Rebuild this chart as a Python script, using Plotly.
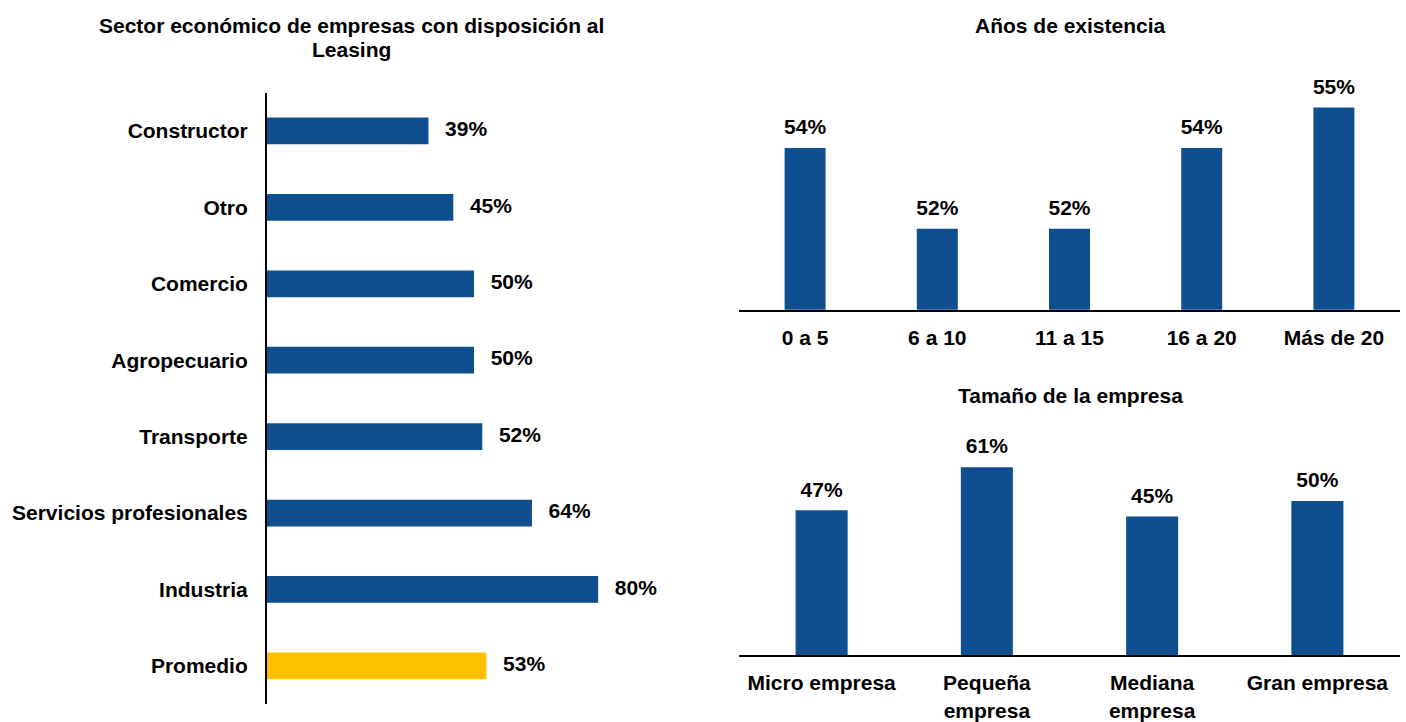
import plotly.graph_objects as go

W, H = 1406, 722

# ---- data ----
sector_cats = ["Constructor", "Otro", "Comercio", "Agropecuario", "Transporte",
               "Servicios profesionales", "Industria", "Promedio"]
sector_vals = [39, 45, 50, 50, 52, 64, 80, 53]

years_cats = ["0 a 5", "6 a 10", "11 a 15", "16 a 20", "Más de 20"]
years_vals = [54, 52, 52, 54, 55]

size_cats = ["Micro empresa", "Pequeña<br>empresa", "Mediana<br>empresa", "Gran empresa"]
size_vals = [47, 61, 45, 50]

BLUE = "#0F4F8F"
YELLOW = "#FFC000"
FONT = "Liberation Sans"
FS = 21


def px_x(p):
    return p / W


def px_y(p):
    return 1 - p / H


bold = dict(family=FONT, size=FS, color="black", weight="bold")
sector_colors = [YELLOW if c == "Promedio" else BLUE for c in sector_cats]

fig = go.Figure()

# left: horizontal bars
fig.add_trace(go.Bar(
    x=sector_vals, y=sector_cats, orientation="h",
    marker=dict(color=sector_colors, line=dict(width=0)),
    width=0.35, xaxis="x", yaxis="y", hoverinfo="skip",
))
fig.add_trace(go.Scatter(
    x=sector_vals, y=sector_cats, mode="markers+text",
    marker=dict(size=25, opacity=0), texttemplate="%{x}%",
    textposition="middle right", textfont=bold, cliponaxis=False,
    xaxis="x", yaxis="y", hoverinfo="skip",
))

# top right: years
fig.add_trace(go.Bar(
    x=years_cats, y=years_vals,
    marker=dict(color=BLUE, line=dict(width=0)),
    width=0.31, xaxis="x2", yaxis="y2", hoverinfo="skip",
))
fig.add_trace(go.Scatter(
    x=years_cats, y=years_vals, mode="markers+text",
    marker=dict(size=12, opacity=0), texttemplate="%{y}%",
    textposition="top center", textfont=bold, cliponaxis=False,
    xaxis="x2", yaxis="y2", hoverinfo="skip",
))

# bottom right: size
fig.add_trace(go.Bar(
    x=size_cats, y=size_vals,
    marker=dict(color=BLUE, line=dict(width=0)),
    width=0.315, xaxis="x3", yaxis="y3", hoverinfo="skip",
))
fig.add_trace(go.Scatter(
    x=size_cats, y=size_vals, mode="markers+text",
    marker=dict(size=12, opacity=0), texttemplate="%{y}%",
    textposition="top center", textfont=bold, cliponaxis=False,
    xaxis="x3", yaxis="y3", hoverinfo="skip",
))

fig.update_layout(
    width=W, height=H,
    margin=dict(l=0, r=0, t=0, b=0),
    paper_bgcolor="white", plot_bgcolor="white",
    showlegend=False,
    font=dict(family=FONT, size=FS, color="black"),
    xaxis=dict(domain=[px_x(267), px_x(681)], range=[0, 100], visible=False, anchor="y"),
    yaxis=dict(domain=[px_y(714), px_y(94)], type="category",
               categoryorder="array", categoryarray=sector_cats,
               range=[len(sector_cats) - 0.5, -0.5],
               showline=True, linecolor="black", linewidth=2, ticks="",
               showgrid=False, zeroline=False, tickfont=bold, ticklabelstandoff=13,
               anchor="x"),
    xaxis2=dict(domain=[px_x(739), px_x(1400)], type="category",
                categoryorder="array", categoryarray=years_cats,
                range=[-0.5, len(years_cats) - 0.5],
                showline=True, linecolor="black", linewidth=2, ticks="",
                showgrid=False, tickfont=bold, ticklabelstandoff=8, anchor="y2"),
    yaxis2=dict(domain=[px_y(314), px_y(68)], range=[50, 56], visible=False, anchor="x2"),
    xaxis3=dict(domain=[px_x(739), px_x(1400)], type="category",
                categoryorder="array", categoryarray=size_cats,
                range=[-0.5, len(size_cats) - 0.5],
                showline=True, linecolor="black", linewidth=2, ticks="",
                showgrid=False, tickfont=bold, ticklabelstandoff=8, anchor="y3"),
    yaxis3=dict(domain=[px_y(664.5), px_y(430)], range=[0, 75], visible=False, anchor="x3"),
)


def title(text, x, y):
    fig.add_annotation(text=f"<b>{text}</b>", x=px_x(x), y=px_y(y),
                       xref="paper", yref="paper", xanchor="center", yanchor="middle",
                       showarrow=False, font=bold)


title("Sector económico de empresas con disposición al", 351, 26)
title("Leasing", 351, 50)
title("Años de existencia", 1070, 26)
title("Tamaño de la empresa", 1070, 401)

post = (
    "document.documentElement.style.margin='0';"
    "document.documentElement.style.padding='0';"
    "document.documentElement.style.overflow='hidden';"
    "document.body.style.margin='0';"
    "document.body.style.padding='0';"
    "document.body.style.overflow='hidden';"
)
fig.write_html("out.html", post_script=post, config={"displayModeBar": False})
